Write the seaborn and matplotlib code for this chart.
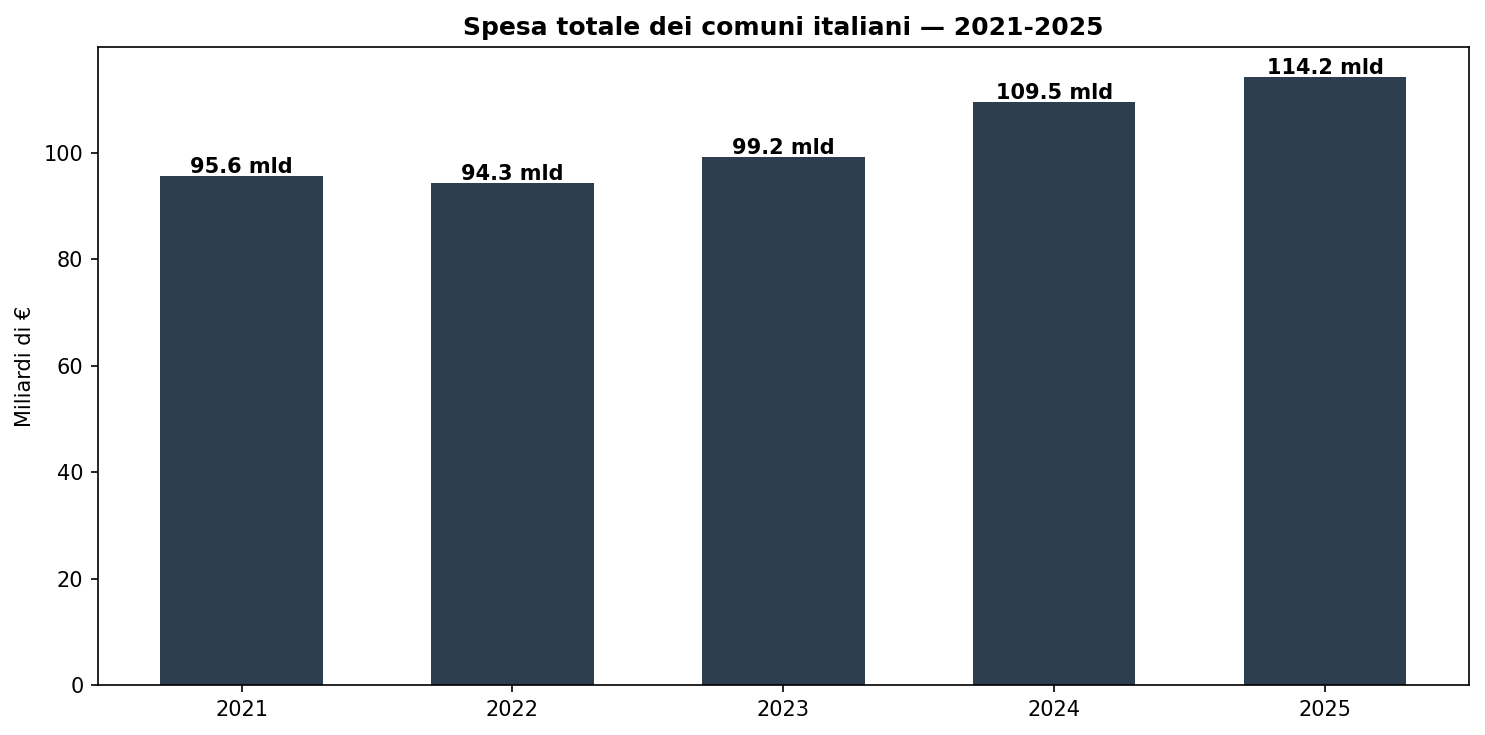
import matplotlib
matplotlib.use("Agg")
import matplotlib.pyplot as plt
import seaborn as sns
import pandas as pd

# data
anni = ["2021", "2022", "2023", "2024", "2025"]
spesa_mld = [95.6, 94.3, 99.2, 109.5, 114.2]

df = pd.DataFrame({"anno": anni, "spesa": spesa_mld})

fig, ax = plt.subplots(figsize=(9.9, 4.9), dpi=150)
sns.barplot(data=df, x="anno", y="spesa", color="#2c3e50", saturation=1,
            width=0.6, ax=ax)

# value labels sitting on top of bars
for i, v in enumerate(spesa_mld):
    ax.annotate(f"{v:.1f} mld", (i, v), xytext=(0, -0.5),
                textcoords="offset points", ha="center", va="bottom",
                fontsize=10, fontweight="bold")

ax.set_xlim(-0.53, len(anni) - 0.47)
ax.set_ylim(0, max(spesa_mld) * 1.05)
ax.set_title("Spesa totale dei comuni italiani — 2021-2025",
             fontsize=12, fontweight="bold")
ax.set_xlabel("")
ax.set_ylabel("Miliardi di €")

fig.subplots_adjust(left=0.066, right=0.989, top=0.936, bottom=0.068)
plt.savefig("out.png", dpi=150)
